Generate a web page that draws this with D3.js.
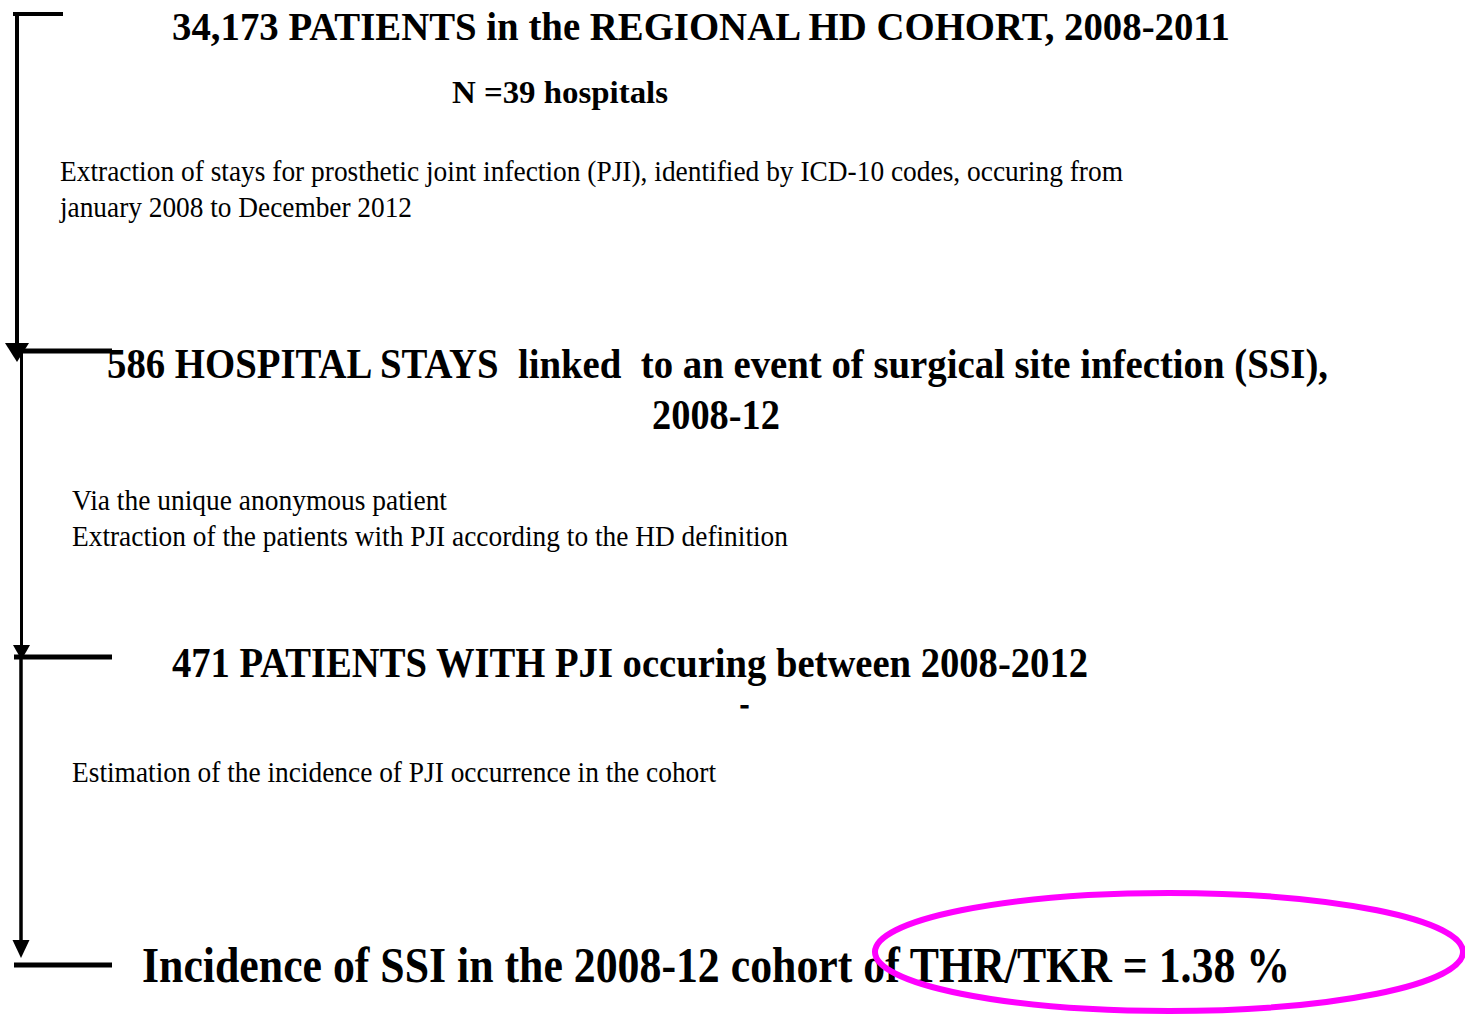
<!DOCTYPE html>
<html>
<head>
<meta charset="utf-8">
<script src="https://cdn.jsdelivr.net/npm/d3@7"></script>
<style>
  body { margin: 0; background: #fff; }
  svg { display: block; }
</style>
</head>
<body>
<div></div>
<script>
// flow stages (headline text)
const stages = ['top', 'stays', 'patients', 'incidence'];
const headlines = [
  '34,173 PATIENTS in the REGIONAL HD COHORT, 2008-2011',
  'N =39 hospitals',
  '586 HOSPITAL STAYS  linked  to an event of surgical site infection (SSI),',
  '2008-12',
  '471 PATIENTS WITH PJI occuring between 2008-2012',
  '-',
  'Incidence of SSI in the 2008-12 cohort of THR/TKR = 1.38 %'
];
const notes = [
  'Extraction of stays for prosthetic joint infection (PJI), identified by ICD-10 codes, occuring from',
  'january 2008 to December 2012',
  'Via the unique anonymous patient',
  'Extraction of the patients with PJI according to the HD definition',
  'Estimation of the incidence of PJI occurrence in the cohort'
];

const w = 1465;
const h = 1014;

const svg = d3
  .select('div')
  .append('svg')
  .attr('width', w)
  .attr('height', h);

// y of each stage bar on the left side
const stageY = d3.scaleOrdinal().domain(stages).range([14, 351, 657, 965]);

// headline layout: [x, baseline, width, size, outline]
const headLayout = [
  [172, 40, 1058, 41, 0],
  [452, 103, 216, 31, 0],
  [107, 378, 1221, 43, 0],
  [652, 429, 128, 43, 0],
  [172, 677, 916, 43, 0],
  [740, 714, 9, 30, 1.2],
  [142, 982, 1148, 51, 0]
];
const noteLayout = [
  [60, 181, 1063],
  [60, 217, 352],
  [72, 510, 375],
  [72, 546, 716],
  [72, 782, 644]
];

svg
  .selectAll('text.head')
  .data(headlines)
  .enter()
  .append('text')
  .attr('class', 'head')
  .attr('x', (d, i) => headLayout[i][0])
  .attr('y', (d, i) => headLayout[i][1])
  .attr('textLength', (d, i) => headLayout[i][2])
  .attr('lengthAdjust', 'spacingAndGlyphs')
  .attr('stroke', (d, i) => (headLayout[i][4] ? '#000' : null))
  .attr('stroke-width', (d, i) => headLayout[i][4] || null)
  .style('font-family', '"Liberation Serif", "Times New Roman", serif')
  .style('font-weight', 'bold')
  .style('font-size', (d, i) => headLayout[i][3] + 'px')
  .style('white-space', 'pre')
  .text((d) => d);

svg
  .selectAll('text.note')
  .data(notes)
  .enter()
  .append('text')
  .attr('class', 'note')
  .attr('x', (d, i) => noteLayout[i][0])
  .attr('y', (d, i) => noteLayout[i][1])
  .attr('textLength', (d, i) => noteLayout[i][2])
  .attr('lengthAdjust', 'spacingAndGlyphs')
  .style('font-family', '"Liberation Serif", "Times New Roman", serif')
  .style('font-size', '29px')
  .text((d) => d);

// left connector lines
const g = svg.append('g').attr('stroke', '#000').attr('fill', 'none');

// top cap
g.append('line')
  .attr('x1', 13).attr('x2', 63)
  .attr('y1', stageY('top')).attr('y2', stageY('top'))
  .attr('stroke-width', 4);

// horizontal bars at each stage
stages.slice(1).forEach((s) => {
  g.append('line')
    .attr('x1', s === 'stays' ? 20 : 14).attr('x2', 112)
    .attr('y1', stageY(s)).attr('y2', stageY(s))
    .attr('stroke-width', 5);
});

// vertical shafts and arrow heads
const shafts = [
  { from: 'top', to: 'stays', x: 17, sw: 4, half: 12, len: 19 },
  { from: 'stays', to: 'patients', x: 21.5, sw: 3, half: 8.5, len: 15 },
  { from: 'patients', to: 'incidence', x: 21, sw: 3.5, half: 8.5, len: 18 }
];
const tips = { stays: 362, patients: 660, incidence: 958 };

shafts.forEach((s) => {
  const tip = tips[s.to];
  g.append('line')
    .attr('x1', s.x).attr('x2', s.x)
    .attr('y1', stageY(s.from) - (s.from === 'top' ? 2 : 0))
    .attr('y2', tip - s.len + 2)
    .attr('stroke-width', s.sw);
  g.append('path')
    .attr('d', `M${s.x - s.half},${tip - s.len}L${s.x + s.half},${tip - s.len}L${s.x},${tip}Z`)
    .attr('fill', '#000')
    .attr('stroke', 'none');
});

// highlight ellipse round the result
svg
  .append('ellipse')
  .attr('cx', 1169)
  .attr('cy', 952)
  .attr('rx', 294)
  .attr('ry', 59)
  .attr('fill', 'none')
  .attr('stroke', '#ff00ff')
  .attr('stroke-width', 6);
</script>
</body>
</html>
